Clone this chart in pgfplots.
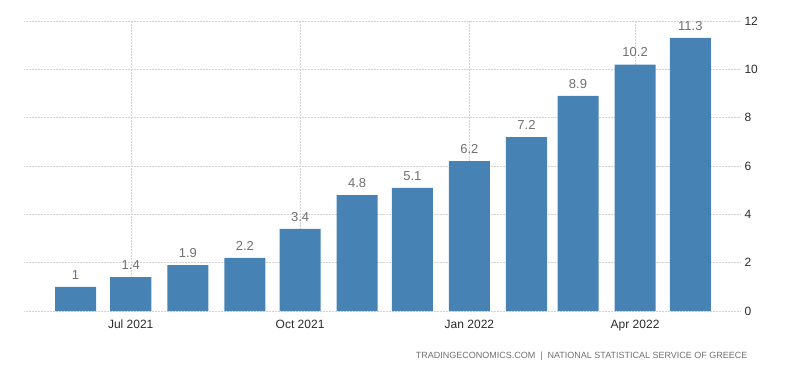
\documentclass[border=0pt]{standalone}
\usepackage{pgfplots}
\pgfplotsset{compat=1.18}
\usepackage{fontspec}
\setmainfont{Liberation Sans}
\definecolor{barblue}{HTML}{4682B4}
\definecolor{gridgray}{HTML}{D2D2D2}
\definecolor{lblgray}{HTML}{707070}
\definecolor{tickdark}{HTML}{2A2A2A}
\begin{document}
\begin{tikzpicture}[x=1pt,y=1pt]
\useasboundingbox (0,0) rectangle (800,373);
\begin{axis}[
  at={(24pt,62pt)}, anchor=south west,
  scale only axis, width=716pt, height=290pt,
  xmin=-28, xmax=361, ymin=0, ymax=12,
  axis line style={draw=none},
  ybar, bar width=22.3,
  xtick={30,122,214,304},
  xticklabels={Jul 2021,Oct 2021,Jan 2022,Apr 2022},
  ytick={0,2,4,6,8,10,12},
  ymajorgrids, xmajorgrids,
  major grid style={gridgray, dash pattern=on 0.6pt off 0.9pt, line width=0.5pt},
  yticklabel pos=right,
  xtick pos=bottom,
  tick style={draw=none},
  /pgf/number format/assume math mode=true,
  xticklabel style={font=\fontsize{12}{14}\selectfont, text=tickdark, yshift=-1pt},
  yticklabel style={font=\fontsize{12}{14}\selectfont, text=tickdark, anchor=west, xshift=1pt},
  nodes near coords,
  every node near coord/.append style={font=\fontsize{13}{15}\selectfont, text=lblgray, yshift=4pt},
  nodes near coords style={/pgf/number format/assume math mode=true},
  clip=false,
]
\addplot[fill=barblue, draw=none] coordinates {
  (0,1) (30,1.4) (61,1.9) (92,2.2) (122,3.4) (153,4.8)
  (183,5.1) (214,6.2) (245,7.2) (273,8.9) (304,10.2) (334,11.3)
};
\end{axis}
\node[anchor=east, text=lblgray, font=\fontsize{9}{10}\selectfont] at (751,17) {TRADINGECONOMICS.COM \ | \ NATIONAL STATISTICAL SERVICE OF GREECE};
\end{tikzpicture}
\end{document}
